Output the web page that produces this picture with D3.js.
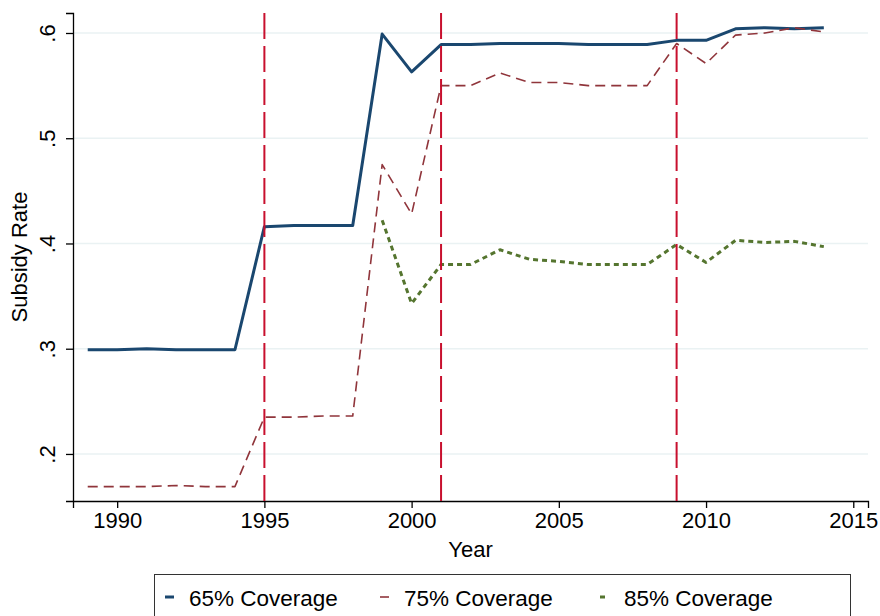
<!DOCTYPE html>
<html>
<head>
<meta charset="utf-8">
<script src="https://cdn.jsdelivr.net/npm/d3@7"></script>
<style>
  body { margin: 0; background: #fff; }
  svg { font-family: "Liberation Sans", Arial, sans-serif; }
</style>
</head>
<body>
<div id="chart"></div>
<script>
// Data
const years = [1989, 1990, 1991, 1992, 1993, 1994, 1995, 1996, 1997, 1998, 1999, 2000, 2001,
  2002, 2003, 2004, 2005, 2006, 2007, 2008, 2009, 2010, 2011, 2012, 2013, 2014];
const cov65 = [0.299, 0.299, 0.300, 0.299, 0.299, 0.299, 0.416, 0.417, 0.417, 0.417, 0.599, 0.563, 0.589,
  0.589, 0.590, 0.590, 0.590, 0.589, 0.589, 0.589, 0.593, 0.593, 0.604, 0.605, 0.604, 0.605];
const cov75 = [0.169, 0.169, 0.169, 0.170, 0.169, 0.169, 0.235, 0.235, 0.236, 0.236, 0.475, 0.428, 0.550,
  0.550, 0.562, 0.553, 0.553, 0.550, 0.550, 0.550, 0.590, 0.571, 0.598, 0.600, 0.605, 0.601];
const cov85 = [null, null, null, null, null, null, null, null, null, null, 0.422, 0.343, 0.380,
  0.380, 0.394, 0.385, 0.383, 0.380, 0.380, 0.380, 0.399, 0.382, 0.403, 0.401, 0.402, 0.397];
const policyYears = [1995, 2001, 2009];
const xTicks = [1990, 1995, 2000, 2005, 2010, 2015];
const yTicks = [0.2, 0.3, 0.4, 0.5, 0.6];
const seriesNames = ["65% Coverage", "75% Coverage", "85% Coverage"];

const width = 880, height = 616;
const margin = { top: 13, right: 12, bottom: 115, left: 73 };
const fontSize = 22;

const svg = d3.select("#chart").append("svg")
  .attr("width", width)
  .attr("height", height);

const x = d3.scaleLinear()
  .domain([1988.5, 2015.5])
  .range([margin.left, width - margin.right]);
const y = d3.scaleLinear()
  .domain([0.1553, 0.619])
  .range([height - margin.bottom, margin.top]);

// Gridlines
svg.append("g")
  .selectAll("line")
  .data(yTicks)
  .enter().append("line")
  .attr("x1", margin.left)
  .attr("x2", width - margin.right)
  .attr("y1", d => y(d))
  .attr("y2", d => y(d))
  .attr("stroke", "#eaf2f3")
  .attr("stroke-width", 1.5);

// Axes
const xAxis = svg.append("g")
  .attr("transform", `translate(0,${height - margin.bottom})`)
  .call(d3.axisBottom(x).tickValues(xTicks).tickFormat(d3.format("d")).tickSizeOuter(0).tickSize(7).tickPadding(4));
xAxis.selectAll("text").attr("font-size", fontSize).attr("fill", "#000");
xAxis.select(".domain").attr("stroke", "#000").attr("stroke-width", 1.3);
xAxis.selectAll(".tick line").attr("stroke", "#000").attr("stroke-width", 1.3);

const yAxis = svg.append("g")
  .attr("transform", `translate(${margin.left},0)`)
  .call(d3.axisLeft(y).tickValues(yTicks).tickFormat(d => d3.format(".1f")(d).replace(/^0/, "")).tickSizeOuter(0).tickSize(7));
yAxis.select(".domain").attr("stroke", "#000").attr("stroke-width", 1.3);
yAxis.selectAll(".tick line").attr("stroke", "#000").attr("stroke-width", 1.3);
yAxis.selectAll("text")
  .attr("font-size", fontSize)
  .attr("fill", "#000")
  .attr("x", null)
  .attr("dy", null)
  .attr("text-anchor", "middle")
  .attr("transform", "translate(-24,0) rotate(-90)")
  .attr("y", 0)
  .attr("dominant-baseline", "middle");

// Axis titles
svg.append("text")
  .attr("x", (margin.left + width - margin.right) / 2)
  .attr("y", 557)
  .attr("text-anchor", "middle")
  .attr("font-size", fontSize)
  .text("Year");
svg.append("text")
  .attr("transform", `translate(27,${(margin.top + height - margin.bottom) / 2}) rotate(-90)`)
  .attr("text-anchor", "middle")
  .attr("font-size", fontSize)
  .text("Subsidy Rate");

// Series lines
const series = [
  { name: seriesNames[0], values: cov65, color: "#1a476f", width: 3, dash: null },
  { name: seriesNames[1], values: cov75, color: "#90353b", width: 1.6, dash: "10,6" },
  { name: seriesNames[2], values: cov85, color: "#55752f", width: 3, dash: "5,4" }
];

const line = d3.line()
  .defined(d => d.v != null)
  .x(d => x(d.year))
  .y(d => y(d.v));

series.forEach(s => {
  svg.append("path")
    .datum(years.map((yr, i) => ({ year: yr, v: s.values[i] })))
    .attr("fill", "none")
    .attr("stroke", s.color)
    .attr("stroke-width", s.width)
    .attr("stroke-dasharray", s.dash)
    .attr("stroke-linejoin", "round")
    .attr("d", line);
});

// Policy change markers
svg.append("g")
  .selectAll("line")
  .data(policyYears)
  .enter().append("line")
  .attr("x1", d => x(d))
  .attr("x2", d => x(d))
  .attr("y1", margin.top)
  .attr("y2", height - margin.bottom)
  .attr("stroke", "#c8102e")
  .attr("stroke-width", 2)
  .attr("stroke-dasharray", "26,7");

// Legend
const legend = svg.append("g");
legend.append("rect")
  .attr("x", 154.5)
  .attr("y", 574.5)
  .attr("width", 696)
  .attr("height", 50)
  .attr("fill", "#fff")
  .attr("stroke", "#333")
  .attr("stroke-width", 1);

const legendX = [165, 380, 600];
series.forEach((s, i) => {
  legend.append("line")
    .attr("x1", legendX[i])
    .attr("x2", legendX[i] + 9)
    .attr("y1", 597)
    .attr("y2", 597)
    .attr("stroke", s.color)
    .attr("stroke-width", s.width)
    .attr("stroke-dasharray", s.dash);
  legend.append("text")
    .attr("x", legendX[i] + 24)
    .attr("y", 606)
    .attr("font-size", 22.5)
    .text(s.name);
});
</script>
</body>
</html>
